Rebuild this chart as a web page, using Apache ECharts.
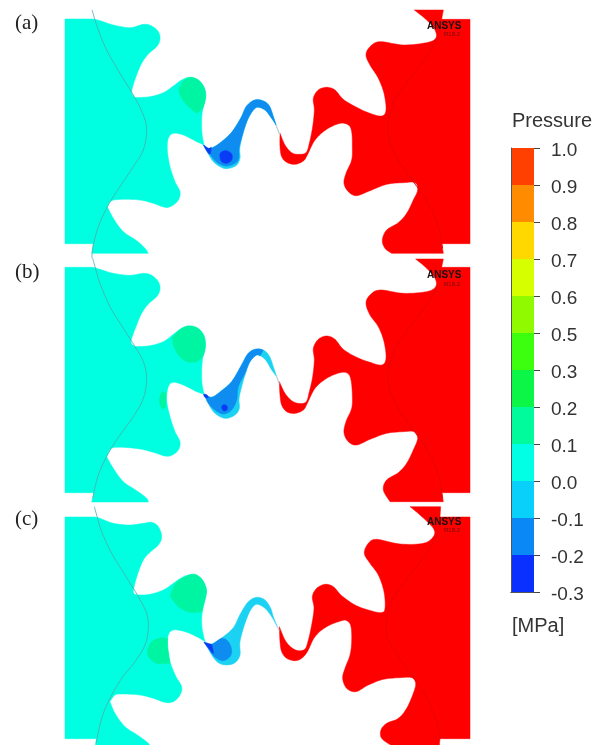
<!DOCTYPE html>
<html><head><meta charset="utf-8">
<style>html,body{margin:0;padding:0;background:#fff}#c{width:595px;height:745px}#c canvas{filter:blur(0.5px)}</style>
<script src="https://cdn.jsdelivr.net/npm/echarts@6/dist/echarts.min.js"></script>
</head><body><div id="c"></div>
<script>
// colour-scale tick labels (bottom to top) and the band colours between them
const tickLabels=['-0.3','-0.2','-0.1','0.0','0.1','0.2','0.3','0.5','0.6','0.7','0.8','0.9','1.0'];
const bandColors=['#0a30ff','#0a88f5','#08d0fa','#00ffe4','#00fb9c','#0cf648','#3cff10','#90fa00','#d6ff00','#ffd800','#ff8c00','#ff4000'];
const TEAL='#00ffe0',GREEN='#00f5a2',BLUE='#0e8cf0',CYAN='#1cd2f2',DARK='#0a3cf5',RED='#ff0000';

// Traced outlines, in 3x units; a third value marks a sharp corner.
const aLeft=[[195,57,1],[280,57,1],[300,62],[340,75],[390,83],[430,73],[455,78],[475,95],[480,118],[470,140],[445,162],[425,190],[408,230],[395,275],[405,293,1],[450,290],[490,278],[520,258],[545,240],[570,232],[595,240],[612,262],[617,290],[608,330],[605,360],[606,400],[612,435,1],[590,425],[550,405],[520,400],[505,415],[502,450],[510,500],[525,545],[540,575],[535,600],[515,618],[495,622],[460,610],[420,600],[370,598],[335,602],[322,620,1],[340,655],[370,695],[410,722],[435,745],[445,760,1],[276,760,1],[280,731,1],[195,731,1]];
const aGreen=[[535,270,1],[550,243],[570,232],[595,240],[612,262],[617,290],[608,325],[590,340,1],[565,320],[545,295]];
const aRibbon=[[612,435,1],[625,445],[640,442],[665,425],[695,397],[722,355],[740,318],[765,300],[790,303],[808,318],[820,350],[828,375,1],[815,355],[795,330],[770,322],[750,345],[735,380],[720,440],[720,475],[708,497],[680,506],[660,500],[640,485],[625,462]];
const aBlue=[[612,435,1],[625,445],[640,442],[665,425],[695,397],[722,355],[740,318],[765,300],[790,303],[808,318],[820,350],[828,375,1],[815,355],[795,330],[770,322],[750,345],[735,380],[718,440],[716,475],[705,490],[680,498],[655,490],[635,470]];
const aDot=[[662,458],[678,452],[695,462],[695,480],[680,490],[665,485],[660,472]];
const aTip=[[610,435,1],[625,445],[634,441,1],[630,462],[620,453]];
const aHub=[[276,30],[295,90],[320,150],[360,220],[400,285],[430,345],[440,390],[430,450],[400,500],[360,560],[325,615],[295,680],[278,745],[276,775]];
const aGap=[[828,375],[838,402]];

const bLeft=[[195,52,1],[280,52,1],[300,58],[340,70],[390,76],[430,70],[455,76],[475,95],[480,118],[470,140],[445,162],[425,190],[408,230],[393,275],[405,290,1],[450,287],[490,275],[520,253],[545,235],[570,228],[595,236],[612,258],[616,290],[608,325],[605,360],[606,400],[612,432,1],[590,425],[550,405],[520,397],[505,410],[500,450],[510,500],[525,545],[540,575],[535,600],[515,616],[495,618],[460,607],[420,597],[370,592],[335,595],[320,620,1],[340,655],[370,695],[410,722],[440,745],[445,756,1],[275,756,1],[282,728,1],[195,728,1]];
const bGreen=[[517,262,1],[545,235],[570,228],[595,236],[612,258],[616,290],[608,320],[590,336,1],[560,335],[535,315],[520,285]];
const bGreen2=[[485,425,1],[498,428,1],[497,472,1],[485,475],[478,450]];
const bRibbon=[[612,432,1],[625,440],[640,440],[665,422],[695,395],[722,350],[745,310],[770,297],[795,303],[810,322],[820,350],[830,380,1],[815,360],[795,328],[770,315],[750,335],[735,375],[718,440],[718,475],[705,495],[680,505],[660,500],[640,485],[625,460]];
const bBlue=[[612,432,1],[625,440],[640,440],[665,422],[695,395],[722,350],[745,310],[770,297],[790,300,1],[780,318,1],[770,315],[750,335],[735,370],[715,410],[710,450],[695,480],[670,492],[645,480],[625,460]];
const bDot=[[665,470],[673,464],[682,470],[680,480],[670,482]];
const bTip=[[610,433,1],[620,434],[625,442],[615,442]];
const bHub=[[278,25],[285,50],[300,100],[330,170],[370,235],[405,290],[430,335],[440,385],[430,445],[400,500],[360,555],[325,610],[295,675],[278,745]];
const bGap=[[830,380],[838,402]];

const cLeft=[[195,66,1],[285,66,1],[300,70],[340,85],[390,90],[430,85],[455,82],[475,95],[485,125],[475,150],[450,172],[430,195],[412,240],[400,290],[412,300,1],[450,298],[490,285],[520,265],[545,248],[575,238],[600,247],[615,270],[619,295],[610,335],[605,370],[607,405],[615,440,1],[590,425],[555,410],[520,405],[505,420],[503,455],[510,500],[528,545],[545,575],[540,600],[520,620],[495,622],[460,610],[420,600],[370,597],[345,600],[330,620,1],[345,655],[375,695],[415,722],[445,745],[450,755,1],[285,755,1],[290,731,1],[195,731,1]];
const cGreen=[[510,303,1],[530,262],[575,238],[600,247],[615,270],[619,295],[605,350,1],[570,352],[535,335]];
const cGreen2=[[480,428,1],[503,430,1],[503,455],[510,505,1],[470,505],[445,485],[443,465],[455,440]];
const cRibbon=[[615,440,1],[630,448],[645,442],[670,425],[700,398],[722,355],[745,320],[770,307],[795,315],[812,340],[820,365],[832,395,1],[815,365],[795,340],[770,328],[752,345],[735,385],[720,440],[720,480],[705,503],[680,510],[655,503],[635,480]];
const cBlue=[[612,442,1],[635,448],[665,430],[685,440],[695,465],[690,485],[670,497],[650,490],[635,475]];
const cTip=[[612,442,1],[635,448,1],[640,475],[628,462]];
const cHub=[[283,35],[290,60],[305,110],[335,175],[375,240],[415,305],[440,355],[445,400],[435,450],[405,500],[365,550],[330,610],[305,670],[288,745]];
const cGap=[[832,395],[838,408]];

const aRight=[[30,400,1],[45,435],[65,458],[85,463],[108,458],[118,430],[128,380],[133,330],[130,295],[145,270],[170,262],[195,270],[220,298],[260,322],[300,340],[335,348],[348,330],[342,280],[325,235],[300,195],[288,165],[300,140],[330,125],[400,135],[470,128],[497,115],[495,90],[470,60],[433,30,1],[520,30,1],[515,58,1],[600,58,1],[600,731,1],[515,731,1],[520,760,1],[365,760,1],[345,745],[337,720],[350,690],[385,668],[410,640],[430,600],[443,570],[435,548],[400,548],[350,553],[300,572],[260,587],[235,575],[222,550],[228,520],[245,480],[247,440],[245,395],[235,375],[210,370],[170,388],[135,420],[112,465],[100,483],[75,493],[50,487],[35,470],[30,440]];
const aRightHub=[[505,110],[470,170],[420,235],[375,300],[355,370],[360,430],[390,490],[430,545],[475,610],[505,680],[518,745]];
const bRight=[[28,395,1],[45,430],[65,452],[85,460],[108,456],[118,425],[128,380],[133,330],[130,295],[145,268],[170,258],[195,268],[220,298],[260,322],[300,337],[335,345],[348,325],[342,275],[325,230],[300,195],[288,160],[300,135],[330,120],[400,130],[470,125],[497,110],[495,85],[470,55],[437,27,1],[520,27,1],[515,52,1],[600,52,1],[600,728,1],[515,728,1],[520,755,1],[360,755,1],[340,720],[350,690],[385,668],[410,640],[430,600],[443,565],[432,545],[400,545],[350,550],[300,568],[260,585],[235,575],[222,548],[228,515],[245,475],[247,435],[243,390],[233,370],[210,368],[170,385],[135,415],[112,460],[100,480],[75,490],[50,485],[35,465],[30,435]];
const bRightHub=[[505,105],[470,165],[420,230],[375,295],[355,365],[360,425],[390,485],[430,540],[475,605],[505,675],[518,745]];
const cRight=[[28,395,1],[45,435],[65,458],[85,467],[105,462],[115,435],[125,390],[132,340],[127,305],[140,280],[165,268],[190,275],[215,302],[255,330],[295,345],[333,353],[345,340],[342,290],[325,240],[300,205],[283,175],[295,145],[320,133],[390,147],[460,145],[490,125],[490,100],[450,60],[420,35,1],[512,35,1],[510,66,1],[600,66,1],[600,731,1],[510,731,1],[508,752,1],[365,752,1],[335,730],[333,705],[350,685],[385,670],[410,640],[430,595],[437,565],[425,548],[390,548],[340,553],[295,570],[258,590],[230,580],[218,550],[225,520],[240,480],[245,440],[243,395],[232,378],[215,377],[170,395],[135,425],[112,470],[95,490],[75,497],[50,490],[35,470],[30,440]];
const cRightHub=[[505,110],[470,175],[420,240],[370,310],[350,370],[350,420],[375,470],[425,540],[470,610],[500,680],[510,730]];

const ORG={a:[0,0,270,0],b:[0,250,270,250],c:[0,495,270,495]};
const place=(arr,ox,oy)=>arr.map(p=>[ox+p[0]/3,oy+p[1]/3,p[2]||0]);
const shapes=[];
function addPanel(k,L,G,R,Bl,D,T,H,Gp,Rt,RH){
  const [lx,ly,rx,ry]=ORG[k];
  shapes.push({pts:place(L,lx,ly),fill:TEAL});
  G.forEach(g=>shapes.push({pts:place(g,lx,ly),fill:GREEN}));
  shapes.push({pts:place(R,lx,ly),fill:CYAN});
  shapes.push({pts:place(Bl,lx,ly),fill:BLUE});
  if(D)shapes.push({pts:place(D,lx,ly),fill:DARK});
  shapes.push({pts:place(T,lx,ly),fill:DARK});
  shapes.push({pts:place(Rt,rx,ry),fill:RED});
  shapes.push({pts:place(H,lx,ly),line:'#4fa8a8',w:0.8});
  shapes.push({pts:place(RH,rx,ry),line:'#e80404',w:1});
  shapes.push({pts:place(Gp,lx,ly),line:'#a8b8c4',w:1});
}
addPanel('a',aLeft,[aGreen],aRibbon,aBlue,aDot,aTip,aHub,aGap,aRight,aRightHub);
addPanel('b',bLeft,[bGreen,bGreen2],bRibbon,bBlue,bDot,bTip,bHub,bGap,bRight,bRightHub);
addPanel('c',cLeft,[cGreen,cGreen2],cRibbon,cBlue,null,cTip,cHub,cGap,cRight,cRightHub);

function curve(pts,closed){
  const out=[],n=pts.length,steps=8;
  const last=closed?n:n-1;
  for(let i=0;i<last;i++){
    const p1=pts[i],p2=pts[(i+1)%n];
    let p0=closed?pts[(i-1+n)%n]:pts[Math.max(i-1,0)];
    let p3=closed?pts[(i+2)%n]:pts[Math.min(i+2,n-1)];
    if(p1[2])p0=p1; if(p2[2])p3=p2;
    for(let s=0;s<steps;s++){
      const t=s/steps,t2=t*t,t3=t2*t;
      out.push([0,1].map(j=>0.5*(2*p1[j]+(p2[j]-p0[j])*t+(2*p0[j]-5*p1[j]+4*p2[j]-p3[j])*t2+(3*p1[j]-p0[j]-3*p2[j]+p3[j])*t3)));
    }
  }
  if(!closed)out.push(pts[n-1].slice(0,2));
  return out;
}

const chart=echarts.init(document.getElementById('c'),null,{renderer:'canvas'});
const T=(text,left,top,style)=>({text,left,top,padding:0,textStyle:Object.assign({fontWeight:'normal'},style)});
const serif={fontFamily:'Liberation Serif',fontSize:21,color:'#222'};
const sans={fontFamily:'Liberation Sans',fontSize:20,color:'#333'};
const ans={fontFamily:'Liberation Sans',fontSize:10,fontWeight:'bold',color:'#1a1010'};
const rev={fontFamily:'Liberation Sans',fontSize:6,color:'#701010'};
chart.setOption({
  animation:false,
  backgroundColor:'#fff',
  title:[
    T('(a)',15,13,serif),T('(b)',15,262,serif),T('(c)',15,509,serif),
    T('Pressure',512,111,sans),T('[MPa]',512,616,sans),
    T('ANSYS',427,21,ans),T('R18.2',444,31,rev),
    T('ANSYS',427,270,ans),T('R18.2',444,281,rev),
    T('ANSYS',427,517,ans),T('R18.2',444,527,rev)
  ],
  grid:[
    {left:0,top:0,width:595,height:745},
    {left:511,top:148,width:23,height:444}
  ],
  xAxis:[
    {type:'value',gridIndex:0,min:0,max:595,show:false},
    {type:'category',gridIndex:1,data:['Pressure'],axisTick:{show:false},axisLabel:{show:false},z:5,
      axisLine:{lineStyle:{color:'#555',width:1}}},
    {type:'category',gridIndex:1,position:'top',data:['Pressure'],axisTick:{show:false},axisLabel:{show:false},z:5,
      axisLine:{lineStyle:{color:'#555',width:1}}}
  ],
  yAxis:[
    {type:'value',gridIndex:0,min:0,max:745,inverse:true,show:false},
    {type:'value',gridIndex:1,position:'right',min:0,max:12,interval:1,splitLine:{show:false},z:5,
      axisLine:{show:false},
      axisTick:{show:true,length:6,lineStyle:{color:'#444',width:1}},
      axisLabel:{show:true,margin:17,color:'#333',fontFamily:'Liberation Sans',fontSize:19,verticalAlign:'top',lineHeight:6,
        formatter:v=>tickLabels[v]}},
    {type:'value',gridIndex:1,position:'left',min:0,max:12,interval:1,splitLine:{show:false},z:5,
      axisLabel:{show:false},axisTick:{show:false},axisLine:{show:true,lineStyle:{color:'#555',width:1}}}
  ],
  series:[
    {type:'custom',xAxisIndex:0,yAxisIndex:0,coordinateSystem:'cartesian2d',clip:false,silent:true,
      data:shapes.map((s,i)=>[i]),encode:{x:0,y:0},
      renderItem:(params,api)=>{
        const s=shapes[api.value(0)];
        const isLine=!!s.line;
        const pts=curve(s.pts,!isLine).map(p=>api.coord(p));
        return isLine
          ?{type:'polyline',shape:{points:pts},style:{stroke:s.line,lineWidth:s.w,fill:null}}
          :{type:'polygon',shape:{points:pts},style:{fill:s.fill,stroke:s.fill,lineWidth:0.5}};
      }},
    ...bandColors.map(c=>({type:'bar',xAxisIndex:1,yAxisIndex:1,stack:'scale',barWidth:'100%',
      data:[1],itemStyle:{color:c},silent:true}))
  ]
});
</script></body></html>
